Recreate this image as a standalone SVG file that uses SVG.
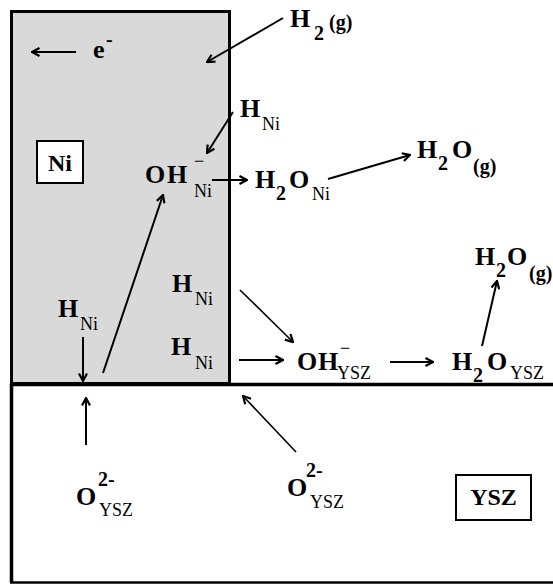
<svg xmlns="http://www.w3.org/2000/svg" width="553" height="584" viewBox="0 0 553 584">
<style>
.m{font-size:26px;font-weight:bold}
.s{font-size:18px}
.d{font-size:20px;font-weight:bold}
.c{stroke:#000;stroke-width:2;fill:none}
.t{stroke:#000;stroke-width:1.6;fill:none}
</style>
<defs>
<marker id="ah" viewBox="0 0 10 10" refX="9" refY="5" markerWidth="10" markerHeight="10" markerUnits="userSpaceOnUse" orient="auto">
<path d="M1.5,1 L9,5 L1.5,9" fill="none" stroke="#000" stroke-width="2.2"/>
</marker>
</defs>
<g id="ni-phase">
<rect x="11.5" y="11.5" width="218" height="372" fill="#d9d9d9" stroke="#000" stroke-width="3"/>
</g>
<g id="ysz-phase">
<line x1="11.5" y1="384" x2="11.5" y2="582" stroke="#000" stroke-width="3.5"/>
<line x1="10" y1="582.5" x2="553" y2="582.5" stroke="#000" stroke-width="2.5"/>
<line x1="10" y1="384.5" x2="553" y2="384.5" stroke="#000" stroke-width="3.5"/>
</g>
<g font-family="Times New Roman, Liberation Serif, DejaVu Serif, serif" fill="#000">
<g id="electron"><text class="m" x="93" y="58">e</text><text class="d" x="106" y="46">-</text></g>
<g id="h2g"><text class="m" x="290" y="27">H</text><text class="d" x="314" y="40">2</text><text class="d" x="329" y="29">(g)</text></g>
<g id="hni-top"><text class="m" x="240" y="117">H</text><text class="s" x="262" y="130">Ni</text></g>
<g id="ni-label"><rect x="37" y="141" width="46" height="42" fill="#fff" stroke="#000" stroke-width="2"/><text x="60" y="171" text-anchor="middle" font-size="24" font-weight="bold">Ni</text></g>
<g id="ohni"><text class="m" x="145" y="183">O</text><text class="m" x="167" y="183">H</text><text class="s" x="194" y="167">−</text><text class="s" x="194" y="197">Ni</text></g>
<g id="h2oni"><text class="m" x="255" y="188">H</text><text class="d" x="276" y="200">2</text><text class="m" x="289" y="188">O</text><text class="s" x="312" y="200">Ni</text></g>
<g id="h2og-top"><text class="m" x="417" y="158">H</text><text class="d" x="438" y="170">2</text><text class="m" x="452" y="158">O</text><text class="d" x="473" y="173">(g)</text></g>
<g id="h2og-right"><text class="m" x="475" y="265">H</text><text class="d" x="496" y="277">2</text><text class="m" x="507" y="265">O</text><text class="d" x="529" y="280">(g)</text></g>
<g id="hni-mid"><text class="m" x="172" y="292">H</text><text class="s" x="195" y="305">Ni</text></g>
<g id="hni-low"><text class="m" x="171" y="355">H</text><text class="s" x="195" y="369">Ni</text></g>
<g id="hni-left"><text class="m" x="58" y="317">H</text><text class="s" x="80" y="330">Ni</text></g>
<g id="ohysz"><text class="m" x="297" y="370">O</text><text class="m" x="318" y="370">H</text><text class="s" x="340" y="354">−</text><text class="s" x="337" y="379">YSZ</text></g>
<g id="h2oysz"><text class="m" x="452" y="370">H</text><text class="d" x="473" y="382">2</text><text class="m" x="487" y="370">O</text><text class="s" x="510" y="379">YSZ</text></g>
<g id="o-left"><text class="m" x="76" y="505">O</text><text class="d" x="98" y="486">2-</text><text class="s" x="99" y="516">YSZ</text></g>
<g id="o-right"><text class="m" x="287" y="496">O</text><text class="d" x="306" y="477">2-</text><text class="s" x="310" y="508">YSZ</text></g>
<g id="ysz-label"><rect x="456" y="475" width="75" height="45" fill="#fff" stroke="#000" stroke-width="2"/><text x="493.5" y="505" text-anchor="middle" font-size="24" font-weight="bold">YSZ</text></g>
</g>
<g id="connectors">
<line class="c" x1="76" y1="52" x2="32" y2="52" marker-end="url(#ah)"/>
<line class="c" x1="283" y1="18" x2="207" y2="62" marker-end="url(#ah)"/>
<line class="c" x1="233" y1="112" x2="207" y2="153" marker-end="url(#ah)"/>
<line class="c" x1="212" y1="180" x2="247" y2="180" marker-end="url(#ah)"/>
<line class="c" x1="328" y1="179" x2="410" y2="155" marker-end="url(#ah)"/>
<line class="c" x1="482" y1="346" x2="497" y2="281" marker-end="url(#ah)"/>
<line class="t" x1="240" y1="290" x2="293" y2="342" marker-end="url(#ah)"/>
<line class="c" x1="239" y1="360" x2="283" y2="360" marker-end="url(#ah)"/>
<line class="c" x1="390" y1="362" x2="433" y2="362" marker-end="url(#ah)"/>
<line class="c" x1="83" y1="337" x2="83" y2="381" marker-end="url(#ah)"/>
<line class="c" x1="103" y1="373" x2="163" y2="195" marker-end="url(#ah)"/>
<line class="c" x1="86" y1="445" x2="86" y2="398" marker-end="url(#ah)"/>
<line class="t" x1="296" y1="452" x2="243" y2="396" marker-end="url(#ah)"/>
</g>
</svg>
